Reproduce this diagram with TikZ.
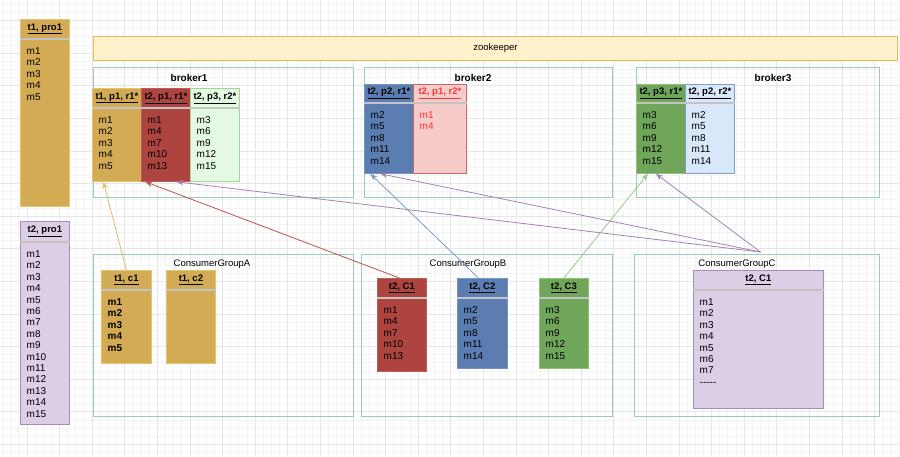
\documentclass[tikz,border=0pt]{standalone}
\usepackage{fontspec}
\setmainfont{Liberation Sans}
\usetikzlibrary{arrows.meta}

\definecolor{gridmin}{HTML}{F3F3F3}
\definecolor{gridmaj}{HTML}{E6E6E6}
\definecolor{frame}{HTML}{9BCBC0}
\definecolor{hdrsep}{HTML}{C4C4C4}
\definecolor{tanfill}{HTML}{D3AB55}
\definecolor{tanline}{HTML}{E3C46F}
\definecolor{redfill}{HTML}{AE4440}
\definecolor{redline}{HTML}{C05B56}
\definecolor{lgreenfill}{HTML}{E4F9E3}
\definecolor{lgreenline}{HTML}{A5D494}
\definecolor{bluefill}{HTML}{5C7DB1}
\definecolor{blueline}{HTML}{7293C4}
\definecolor{pinkfill}{HTML}{F7CBC9}
\definecolor{pinkline}{HTML}{C96764}
\definecolor{greenfill}{HTML}{6FA65A}
\definecolor{greenline}{HTML}{8FC37A}
\definecolor{lbluefill}{HTML}{D9E7FB}
\definecolor{lblueline}{HTML}{7C9CCB}
\definecolor{purplefill}{HTML}{DCCEE4}
\definecolor{purpleline}{HTML}{A88BB6}
\definecolor{zkfill}{HTML}{FFF1CB}
\definecolor{zkline}{HTML}{E2BE5C}
\definecolor{pinktext}{HTML}{F03A3A}
\definecolor{arrtan}{HTML}{DDBB66}
\definecolor{arrred}{HTML}{B9524E}
\definecolor{arrpurple}{HTML}{A582B6}
\definecolor{arrblue}{HTML}{7D9BCB}
\definecolor{arrgreen}{HTML}{98CC80}

\newcommand{\itemfont}{\fontsize{10}{12}\selectfont}
\newcommand{\hdrfont}{\fontsize{9.5}{11}\selectfont\bfseries}
\newcommand{\dashes}{-{}-{}-{}-{}-}

\tikzset{
  container/.style={draw=frame, line width=0.9pt},
  tanbox/.style={draw=tanline, fill=tanfill, line width=0.8pt},
  redbox/.style={draw=redline, fill=redfill, line width=0.8pt},
  lgreenbox/.style={draw=lgreenline, fill=lgreenfill, line width=0.8pt},
  bluebox/.style={draw=blueline, fill=bluefill, line width=0.8pt},
  pinkbox/.style={draw=pinkline, fill=pinkfill, line width=0.8pt},
  greenbox/.style={draw=greenline, fill=greenfill, line width=0.8pt},
  lbluebox/.style={draw=lblueline, fill=lbluefill, line width=0.8pt},
  purplebox/.style={draw=purpleline, fill=purplefill, line width=0.8pt},
  hdrline/.style={draw=hdrsep, line width=1.2pt},
  hdrtext/.style={},
  listtext/.style={},
  hdr/.style={font=\hdrfont, inner sep=0pt, hdrtext},
  item/.style={font=\itemfont, inner sep=0pt, listtext},
  title/.style={font=\fontsize{10}{12}\selectfont\bfseries, inner sep=0pt},
  grptitle/.style={font=\fontsize{9.5}{11}\selectfont, inner sep=0pt},
  conn/.style={-{Stealth[length=7pt,width=5.5pt]}, line width=0.8pt},
}

% list box: name, x, y, width, height, header height, style, header, items
\newcommand{\msglist}[9]{%
  \node[#7, minimum width=#4, minimum height=#5, anchor=north west, inner sep=0pt] (#1) at (#2,#3) {};
  \draw[hdrline] ([yshift=-#6]#1.north west) -- ([yshift=-#6]#1.north east);
  \node[hdr] (#1-h) at ([yshift=-#6/2]#1.north) {\underline{#8}};
  \foreach \m [count=\i] in {#9}
    \node[item, anchor=base west] (#1-\i) at ({#2+6.5},{#3+#6+15.5+(\i-1)*11.4}) {\m};
}

\begin{document}
\begin{tikzpicture}[x=1pt, y=-1pt]
\useasboundingbox (0,0) rectangle (900,456);
% background grid
\foreach \k in {0,...,110}
  \draw[gridmin, line width=0.5pt] ({2.35+\k*8.15},0) -- ++(0,456);
\foreach \k in {0,...,55}
  \draw[gridmin, line width=0.5pt] (0,{4.1+\k*8.15}) -- ++(900,0);
\foreach \k in {0,...,27}
  \draw[gridmaj, line width=0.5pt] ({26.8+\k*32.6},0) -- ++(0,456);
\foreach \k in {0,...,13}
  \draw[gridmaj, line width=0.5pt] (0,{20.4+\k*32.6}) -- ++(900,0);

% zookeeper
\node[draw=zkline, fill=zkfill, line width=0.9pt, minimum width=804, minimum height=24, anchor=north west] (zk) at (93,36) {\fontsize{9.5}{11}\selectfont zookeeper};

% brokers
\node[container, minimum width=260, minimum height=130, anchor=north west] (b1) at (93,67) {};
\node[container, minimum width=248, minimum height=130, anchor=north west] (b2) at (364,67) {};
\node[container, minimum width=243, minimum height=130, anchor=north west] (b3) at (636,67) {};
\node[title] (b1-t) at (189,78) {broker1};
\node[title] (b2-t) at (473,78) {broker2};
\node[title] (b3-t) at (773,78) {broker3};

% consumer groups
\node[container, minimum width=260, minimum height=162, anchor=north west] (grpA) at (93,254) {};
\node[container, minimum width=251, minimum height=162, anchor=north west] (grpB) at (361,254) {};
\node[container, minimum width=245, minimum height=162, anchor=north west] (grpC) at (634,254) {};
\node[grptitle] (grpA-t) at (212,264) {ConsumerGroupA};
\node[grptitle] (grpB-t) at (468,264) {ConsumerGroupB};
\node[grptitle] (grpC-t) at (737,264) {ConsumerGroupC};

% producers
\msglist{t1pro}{20}{19}{49}{187}{20}{tanbox}{t1, pro1}{m1,m2,m3,m4,m5}
\msglist{t2pro}{20}{221}{49}{203}{21}{purplebox}{t2, pro1}{m1,m2,m3,m4,m5,m6,m7,m8,m9,m10,m11,m12,m13,m14,m15}

% partitions
\msglist{b1p1}{92}{88}{49}{93}{20}{tanbox}{t1, p1, r1*}{m1,m2,m3,m4,m5}
\msglist{b1p2}{141}{88}{49}{93}{20}{redbox}{t2, p1, r1*}{m1,m4,m7,m10,m13}
\msglist{b1p3}{190}{88}{49}{93}{20}{lgreenbox}{t2, p3, r2*}{m3,m6,m9,m12,m15}
\msglist{b2p1}{364}{84}{49}{89}{19}{bluebox}{t2, p2, r1*}{m2,m5,m8,m11,m14}
\begin{scope}[hdrtext/.style={text=pinktext}, listtext/.style={text=pinktext}]
\msglist{b2p2}{413}{84}{53}{89}{19}{pinkbox}{t2, p1, r2*}{m1,m4}
\end{scope}
\msglist{b3p1}{636}{84}{49}{89}{19}{greenbox}{t2, p3, r1*}{m3,m6,m9,m12,m15}
\msglist{b3p2}{685}{84}{49}{89}{19}{lbluebox}{t2, p2, r2*}{m2,m5,m8,m11,m14}

% consumers
\begin{scope}[listtext/.style={font=\bfseries\itemfont}]
\msglist{a1}{101}{270}{50}{93}{20}{tanbox}{t1, c1}{m1,m2,m3,m4,m5}
\end{scope}
\msglist{a2}{166}{270}{49}{93}{20}{tanbox}{t1, c2}{}
\msglist{bc1}{377}{278}{49}{93}{20}{redbox}{t2, C1}{m1,m4,m7,m10,m13}
\msglist{bc2}{457}{278}{50}{90}{20}{bluebox}{t2, C2}{m2,m5,m8,m11,m14}
\msglist{bc3}{539}{278}{49}{90}{20}{greenbox}{t2, C3}{m3,m6,m9,m12,m15}
\msglist{cc1}{693}{270}{130}{138}{20}{purplebox}{t2, C1}{m1,m2,m3,m4,m5,m6,m7,\dashes}

% fetch arrows
\draw[conn, arrtan] (a1.north) -- ([xshift=-13.5pt]b1p1.south);
\draw[conn, arrred] ([xshift=-2.5pt]bc1.north) -- ([xshift=-20.5pt]b1p2.south);
\draw[conn, arrblue] ([xshift=-4pt]bc2.north) -- ([xshift=-18.5pt]b2p1.south);
\draw[conn, arrgreen] (bc3.north) -- ([xshift=-13pt]b3p1.south);
\draw[conn, arrpurple] ([xshift=3.5pt,yshift=2pt]grpC.north) -- ([xshift=10.5pt]b1p2.south);
\draw[conn, arrpurple] ([xshift=3.5pt,yshift=2pt]grpC.north) -- ([xshift=-8.5pt]b2p1.south);
\draw[conn, arrpurple] ([xshift=3.5pt,yshift=2pt]grpC.north) -- ([xshift=-5pt]b3p1.south);
\end{tikzpicture}
\end{document}
